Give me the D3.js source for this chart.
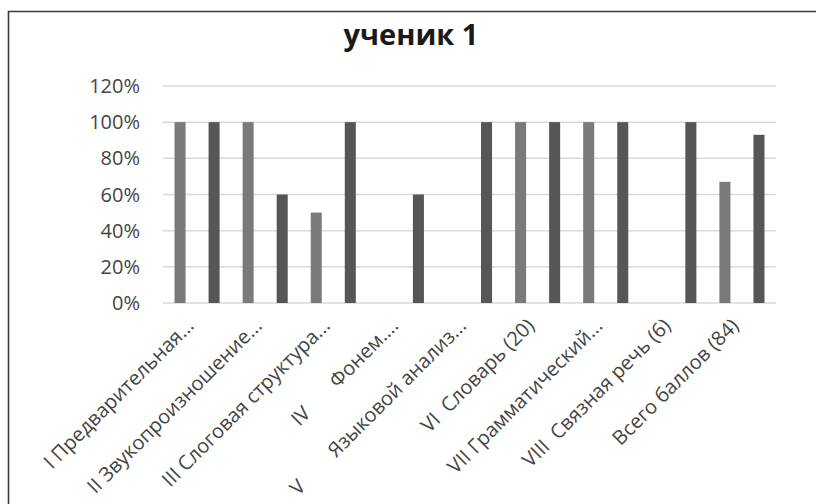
<!DOCTYPE html>
<html>
<head>
<meta charset="utf-8">
<script src="https://cdn.jsdelivr.net/npm/d3@7"></script>
<style>
  body { margin: 0; background: #fff; overflow: hidden; }
  svg { display: block; }
  text { font-family: "Open Sans", sans-serif; }
</style>
</head>
<body>
<div id="chart"></div>
<script>
const width = 816;
const height = 504;

// data
const categories = [
  "I Предварительная...",
  "II Звукопроизношение...",
  "III Слоговая структура...",
  "IV       Фонем....",
  "V        Языковой анализ...",
  "VI  Словарь (20)",
  "VII Грамматический...",
  "VIII  Связная речь (6)",
  "Всего баллов (84)"
];
const seriesNames = ["s1", "s2"];
const series1 = [1.00, 1.00, 0.50, null, null, 1.00, 1.00, null, 0.67];
const series2 = [1.00, 0.60, 1.00, 0.60, 1.00, 1.00, 1.00, 1.00, 0.93];
const yTicks = [0, 0.2, 0.4, 0.6, 0.8, 1.0, 1.2];
const colors = ["#7a7a7a", "#565656"];

const margin = {top: 86, left: 163, right: 40, bottom: 201};

const svg = d3.select("#chart")
  .append("svg")
  .attr("width", width)
  .attr("height", height);

svg.append("rect").attr("width", width).attr("height", height).attr("fill", "#fff");

// frame (top and left only)
svg.append("path")
  .attr("d", `M8.5,${height} V11.5 H${width}`)
  .attr("fill", "none")
  .attr("stroke", "#3a3a3a")
  .attr("stroke-width", 1.6);

const x = d3.scaleBand()
  .domain(categories)
  .range([margin.left, width - margin.right]);

const xInner = d3.scaleBand()
  .domain(seriesNames)
  .range([0, x.bandwidth()])
  .paddingInner(0.676)
  .paddingOuter(0.338);

const y = d3.scaleLinear()
  .domain([0, 1.2])
  .range([height - margin.bottom, margin.top]);

// gridlines
svg.append("g")
  .selectAll("line")
  .data(yTicks)
  .join("line")
  .attr("x1", margin.left)
  .attr("x2", width - margin.right)
  .attr("y1", d => y(d))
  .attr("y2", d => y(d))
  .attr("stroke", "#d9d9d9")
  .attr("stroke-width", 1.5);

// y labels
svg.append("g")
  .selectAll("text")
  .data(yTicks)
  .join("text")
  .attr("x", 140)
  .attr("y", d => y(d))
  .attr("dy", "0.35em")
  .attr("text-anchor", "end")
  .attr("fill", "#454545")
  .style("font-size", "20px")
  .text(d => d3.format(".0%")(d));

// bars
const rows = categories.map((c, i) => ({cat: c, vals: [series1[i], series2[i]]}));

const groups = svg.append("g")
  .selectAll("g")
  .data(rows)
  .join("g")
  .attr("transform", d => `translate(${x(d.cat)},0)`);

groups.selectAll("rect")
  .data(d => d.vals.map((v, j) => ({key: seriesNames[j], v, j})).filter(e => e.v != null))
  .join("rect")
  .attr("x", d => xInner(d.key))
  .attr("width", xInner.bandwidth())
  .attr("y", d => y(d.v))
  .attr("height", d => y(0) - y(d.v))
  .attr("fill", d => colors[d.j]);

// x labels
svg.append("g")
  .selectAll("text")
  .data(categories)
  .join("text")
  .attr("transform", d => `translate(${x(d) + x.bandwidth() / 2 - 2},${y(0) + 24}) rotate(-45)`)
  .attr("text-anchor", "end")
  .attr("fill", "#454545")
  .style("font-size", "20px")
  .style("white-space", "pre")
  .text(d => d);

// title
svg.append("text")
  .attr("x", 411)
  .attr("y", 45)
  .attr("text-anchor", "middle")
  .attr("fill", "#1a1a1a")
  .style("font-size", "29px")
  .style("font-weight", "bold")
  .text("ученик 1");
</script>
</body>
</html>
